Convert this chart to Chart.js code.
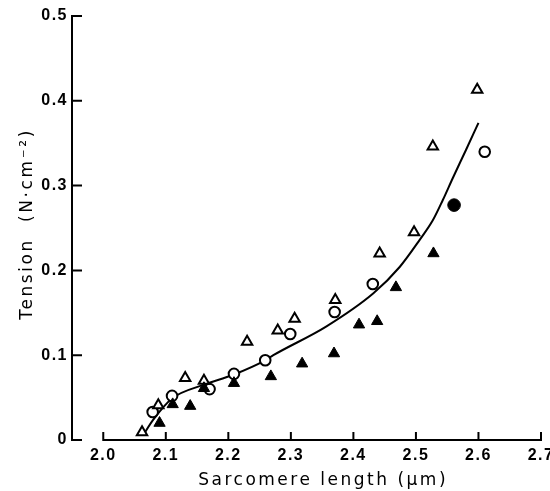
<!DOCTYPE html>
<html>
<head>
<meta charset="utf-8">
<script src="https://cdn.jsdelivr.net/npm/chart.js@4.4.1/dist/chart.umd.min.js"></script>
<style>
html,body{margin:0;padding:0;background:#fff;}
#wrap{width:550px;height:491px;position:relative;}
</style>
</head>
<body>
<div id="wrap"><canvas id="c" width="550" height="491"></canvas></div>
<script>
// ---- data ----
const xTicks = [2.0, 2.1, 2.2, 2.3, 2.4, 2.5, 2.6, 2.7];
const yTicks = [0, 0.1, 0.2, 0.3, 0.4, 0.5];

const openTriX = [2.062, 2.088, 2.131, 2.161, 2.230, 2.279, 2.306, 2.371, 2.442, 2.497, 2.527, 2.598];
const openTriY = [0.009, 0.041, 0.073, 0.070, 0.116, 0.129, 0.143, 0.165, 0.220, 0.245, 0.346, 0.413];

const openCircX = [2.079, 2.110, 2.170, 2.209, 2.259, 2.299, 2.370, 2.431, 2.610];
const openCircY = [0.033, 0.052, 0.060, 0.078, 0.094, 0.125, 0.151, 0.184, 0.340];

const filledTriX = [2.090, 2.111, 2.139, 2.161, 2.209, 2.268, 2.318, 2.369, 2.409, 2.438, 2.468, 2.528];
const filledTriY = [0.020, 0.042, 0.040, 0.061, 0.067, 0.075, 0.090, 0.102, 0.136, 0.140, 0.180, 0.220];

const filledCircX = [2.561];
const filledCircY = [0.277];

const curveX = [2.064, 2.080, 2.110, 2.160, 2.208, 2.259, 2.272, 2.357, 2.432, 2.474, 2.506, 2.527, 2.543, 2.559, 2.580, 2.600];
const curveY = [0.006, 0.024, 0.049, 0.065, 0.077, 0.094, 0.100, 0.134, 0.173, 0.204, 0.236, 0.259, 0.283, 0.309, 0.342, 0.374];

const xTitle = 'Sarcomere length (\u03BCm)';
const yTitle = 'Tension  (N\u00B7cm\u207B\u00B2)';

function pts(xs, ys){ return xs.map((x,i)=>({x:x, y:ys[i]})); }

const TITLE_FONT = '"DejaVu Sans", sans-serif';
const TICK_FONT = '"Liberation Sans", Arial, sans-serif';

const axesPlugin = {
  id: 'axesPlugin',
  beforeDraw(chart){ chart.ctx.letterSpacing = '1.5px'; },
  beforeDatasetsDraw(chart){
    const ctx = chart.ctx;
    const xs = chart.scales.x, ys = chart.scales.y;
    ctx.save();
    ctx.strokeStyle = '#000';
    ctx.lineWidth = 2;
    ctx.lineCap = 'butt';
    const x0 = xs.getPixelForValue(xTicks[0]);
    const x1 = xs.getPixelForValue(xTicks[xTicks.length-1]);
    const yb = ys.getPixelForValue(0);
    const yt = ys.getPixelForValue(yTicks[yTicks.length-1]);
    const ax = chart.chartArea.left;
    ctx.beginPath();
    // y axis
    ctx.moveTo(ax, yt - 1); ctx.lineTo(ax, yb + 1);
    yTicks.forEach(v=>{ const p = ys.getPixelForValue(v); ctx.moveTo(ax, p); ctx.lineTo(ax + 10, p); });
    // x axis
    ctx.moveTo(x0 - 1, yb); ctx.lineTo(x1 + 1, yb);
    xTicks.forEach(v=>{ const p = xs.getPixelForValue(v); ctx.moveTo(p, yb + 1); ctx.lineTo(p, yb - 8); });
    ctx.stroke();
    ctx.restore();
  },
  afterDraw(chart){
    const ctx = chart.ctx;
    const xs = chart.scales.x, ys = chart.scales.y;
    ctx.save();
    ctx.fillStyle = '#000';
    ctx.font = '17px ' + TITLE_FONT;
    ctx.textBaseline = 'alphabetic';
    ctx.textAlign = 'center';
    // x title
    ctx.letterSpacing = '2.5px';
    ctx.fillText(xTitle, xs.getPixelForValue(2.35) + 1, 485);
    // y title (rotated)
    ctx.letterSpacing = '2.6px';
    ctx.translate(32, ys.getPixelForValue(0.256) + 1);
    ctx.rotate(-Math.PI / 2);
    ctx.fillText(yTitle, 0, 0);
    ctx.restore();
  }
};

new Chart(document.getElementById('c'), {
  type: 'scatter',
  data: {
    datasets: [
      { label: 'fit', type: 'line', data: pts(curveX, curveY), showLine: true, pointRadius: 0,
        borderColor: '#000', borderWidth: 2, cubicInterpolationMode: 'monotone', fill: false, order: 10 },
      { label: 'open triangles', data: pts(openTriX, openTriY), pointStyle: 'triangle', pointRadius: 6,
        backgroundColor: '#fff', borderColor: '#000', borderWidth: 2, order: 2 },
      { label: 'open circles', data: pts(openCircX, openCircY), pointStyle: 'circle', pointRadius: 5.3,
        backgroundColor: '#fff', borderColor: '#000', borderWidth: 2, order: 2 },
      { label: 'filled triangles', data: pts(filledTriX, filledTriY), pointStyle: 'triangle', pointRadius: 6.5,
        backgroundColor: '#000', borderColor: '#000', borderWidth: 1, order: 1 },
      { label: 'filled circle', data: pts(filledCircX, filledCircY), pointStyle: 'circle', pointRadius: 6.3,
        backgroundColor: '#000', borderColor: '#000', borderWidth: 1, order: 1 }
    ]
  },
  options: {
    responsive: false,
    animation: false,
    events: [],
    layout: { padding: { top: 16, right: 9, left: 0, bottom: 0 } },
    plugins: { legend: { display: false }, tooltip: { enabled: false } },
    scales: {
      x: {
        type: 'linear', min: 1.95, max: 2.7,
        grid: { display: false, drawTicks: false },
        border: { display: false },
        afterBuildTicks(s){ s.ticks = xTicks.map(v=>({value:v})); },
        afterFit(s){ s.height = 51; s.paddingLeft = 0; s.paddingRight = 0; },
        ticks: { color: '#000', padding: 7, maxRotation: 0, autoSkip: false,
          font: { family: TICK_FONT, size: 16, weight: 'bold', lineHeight: 1.1 },
          callback: v => Number(v).toFixed(1) }
      },
      y: {
        type: 'linear', min: 0, max: 0.5,
        grid: { display: false, drawTicks: false },
        border: { display: false },
        afterBuildTicks(s){ s.ticks = yTicks.map(v=>({value:v})); },
        afterFit(s){ s.width = 72; s.paddingTop = 0; s.paddingBottom = 0; },
        ticks: { color: '#000', padding: 4, autoSkip: false,
          font: { family: TICK_FONT, size: 16, weight: 'bold' },
          callback: v => v === 0 ? '0' : Number(v).toFixed(1) }
      }
    }
  },
  plugins: [axesPlugin]
});
</script>
</body>
</html>
